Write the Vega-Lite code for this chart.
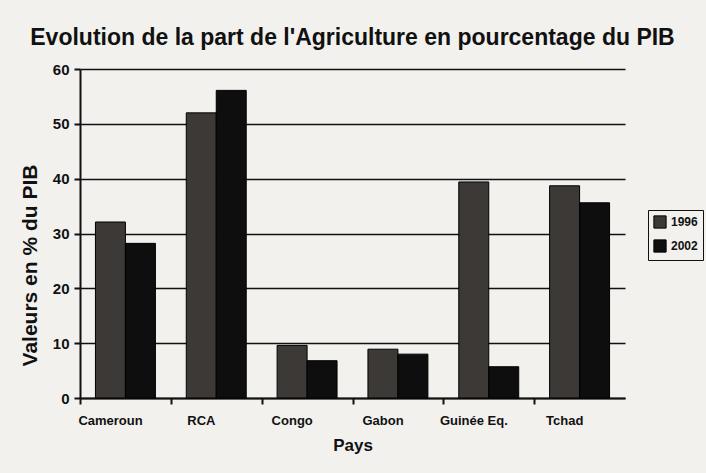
{
  "$schema": "https://vega.github.io/schema/vega-lite/v6.json",
  "autosize": "none",
  "width": 545,
  "height": 329,
  "padding": {"left": 80, "top": 69, "right": 81, "bottom": 75},
  "background": "#f2f1ee",
  "title": {
    "text": "Evolution de la part de l'Agriculture en pourcentage du PIB",
    "font": "Liberation Sans",
    "fontSize": 23,
    "fontWeight": "bold",
    "color": "#111111",
    "anchor": "middle",
    "offset": 12
  },
  "data": {
    "values": [
      {"Pays": "Cameroun", "annee": "1996", "valeur": 32.1},
      {"Pays": "Cameroun", "annee": "2002", "valeur": 28.2},
      {"Pays": "RCA", "annee": "1996", "valeur": 52.0},
      {"Pays": "RCA", "annee": "2002", "valeur": 56.1},
      {"Pays": "Congo", "annee": "1996", "valeur": 9.6},
      {"Pays": "Congo", "annee": "2002", "valeur": 6.8},
      {"Pays": "Gabon", "annee": "1996", "valeur": 8.9},
      {"Pays": "Gabon", "annee": "2002", "valeur": 8.0},
      {"Pays": "Guinée Eq.", "annee": "1996", "valeur": 39.4},
      {"Pays": "Guinée Eq.", "annee": "2002", "valeur": 5.7},
      {"Pays": "Tchad", "annee": "1996", "valeur": 38.7},
      {"Pays": "Tchad", "annee": "2002", "valeur": 35.6}
    ]
  },
  "mark": {"type": "bar", "stroke": "#000000", "strokeWidth": 1},
  "encoding": {
    "x": {
      "field": "Pays",
      "type": "nominal",
      "sort": null,
      "scale": {"paddingInner": 0.34, "paddingOuter": 0.17},
      "axis": {
        "title": "Pays",
        "titleFontSize": 17,
        "labelAngle": 0,
        "bandPosition": 0,
        "tickOffset": -15.4,
        "labelPadding": 10,
        "labelFontSize": 13,
        "tickSize": 6,
        "tickWidth": 2,
        "tickColor": "#111111",
        "domainColor": "#111111",
        "domainWidth": 2,
        "titlePadding": 10
      }
    },
    "xOffset": {"field": "annee", "type": "nominal"},
    "y": {
      "field": "valeur",
      "type": "quantitative",
      "scale": {"domain": [0, 60]},
      "axis": {
        "title": "Valeurs en % du PIB",
        "titleFontSize": 21,
        "titleY": 196,
        "values": [0, 10, 20, 30, 40, 50, 60],
        "labelFontSize": 15,
        "tickSize": 6,
        "tickWidth": 2,
        "tickColor": "#111111",
        "domainColor": "#111111",
        "domainWidth": 2,
        "grid": true,
        "gridColor": "#111111",
        "gridWidth": 1.6,
        "gridOpacity": 1,
        "labelPadding": 5,
        "titlePadding": 12
      }
    },
    "color": {
      "field": "annee",
      "type": "nominal",
      "scale": {"domain": ["1996", "2002"], "range": ["#3d3936", "#0e0e0e"]},
      "legend": {
        "title": null,
        "orient": "none",
        "legendX": 568,
        "legendY": 141,
        "symbolType": "square",
        "symbolSize": 150,
        "symbolStrokeColor": "#000000",
        "symbolStrokeWidth": 1,
        "labelFontSize": 12,
        "labelFont": "Liberation Sans",
        "labelFontWeight": "bold",
        "labelColor": "#111111",
        "strokeColor": "#111111",
        "padding": 5,
        "rowPadding": 6
      }
    }
  },
  "config": {
    "view": {"stroke": null},
    "axis": {
      "labelFont": "Liberation Sans",
      "labelFontWeight": "bold",
      "labelFontSize": 13,
      "labelColor": "#111111",
      "titleFont": "Liberation Sans",
      "titleFontWeight": "bold",
      "titleFontSize": 16,
      "titleColor": "#111111"
    }
  }
}
